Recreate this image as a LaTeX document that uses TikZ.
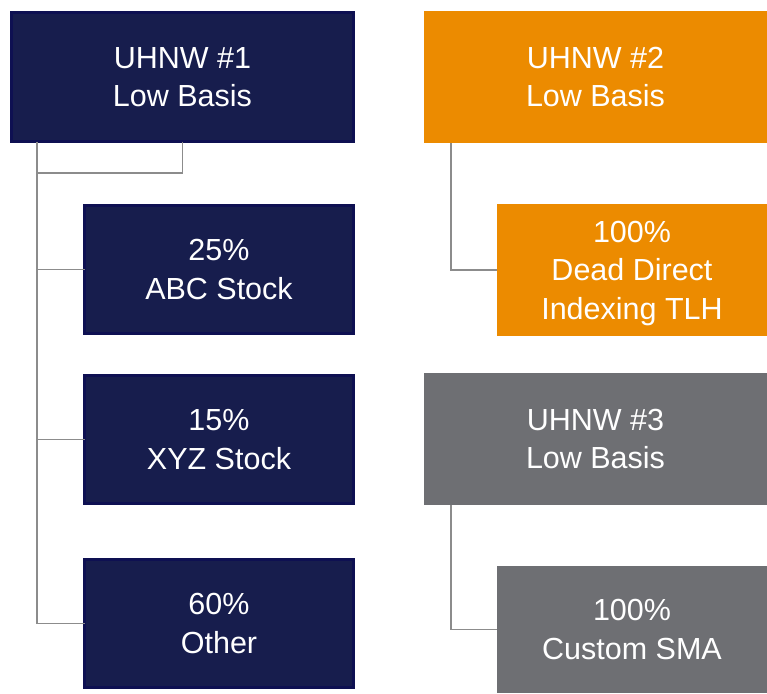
\documentclass[tikz,border=0pt]{standalone}
\usepackage{fontspec}
\setmainfont{Liberation Sans}
\usetikzlibrary{calc}
\definecolor{navyfill}{RGB}{23,29,77}
\definecolor{navyedge}{RGB}{14,16,82}
\definecolor{orangefill}{RGB}{236,139,0}
\definecolor{grayfill}{RGB}{110,111,115}
\definecolor{connc}{RGB}{140,140,140}
\tikzset{
  boxbase/.style={rectangle, anchor=north west, inner sep=0pt, outer sep=0pt, align=center,
    text=white, font=\fontsize{30.5}{38.5}\selectfont},
  navybox/.style={boxbase, fill=navyfill, draw=navyedge, line width=3pt},
  orangebox/.style={boxbase, fill=orangefill},
  graybox/.style={boxbase, fill=grayfill},
  conn/.style={draw=connc, line width=1.3pt}
}
\begin{document}
\begin{tikzpicture}[x=1pt,y=-1pt]
\useasboundingbox (0,0) rectangle (767,693);
% left column
\node[navybox, minimum width=342pt, minimum height=129pt] (u1) at (11.5,12.5) {UHNW \#1\\Low Basis};
\node[navybox, minimum width=269pt, minimum height=128pt] (abc) at (84.5,205.5) {25\%\\ABC Stock};
\node[navybox, minimum width=269pt, minimum height=128pt] (xyz) at (84.5,375.5) {15\%\\XYZ Stock};
\node[navybox, minimum width=269pt, minimum height=128pt] (oth) at (84.5,559.5) {60\%\\Other};
% right column
\node[orangebox, minimum width=343pt, minimum height=132pt] (u2) at (424,11) {UHNW \#2\\Low Basis};
\node[orangebox, minimum width=270pt, minimum height=132pt, text depth=0pt] (ddi) at (497,204) {100\%\\Dead Direct\\Indexing TLH};
\node[graybox, minimum width=343pt, minimum height=132pt] (u3) at (424,373) {UHNW \#3\\Low Basis};
\node[graybox, minimum width=270pt, minimum height=127pt] (sma) at (497,566) {100\%\\Custom SMA};
% connectors left
\coordinate (j1) at (37,173);
\draw[conn] (u1.south) |- (j1);
\draw[conn] (j1 |- u1.south) -- (j1) |- (oth.west);
\draw[conn] (j1 |- abc.west) -- (abc.west);
\draw[conn] (j1 |- xyz.west) -- (xyz.west);
% connectors right
\coordinate (r2) at ($(u2.south west)+(27,0)$);
\coordinate (r3) at ($(u3.south west)+(27,0)$);
\draw[conn] (r2) |- (ddi.west);
\draw[conn] (r3) |- (sma.west);
\end{tikzpicture}
\end{document}
